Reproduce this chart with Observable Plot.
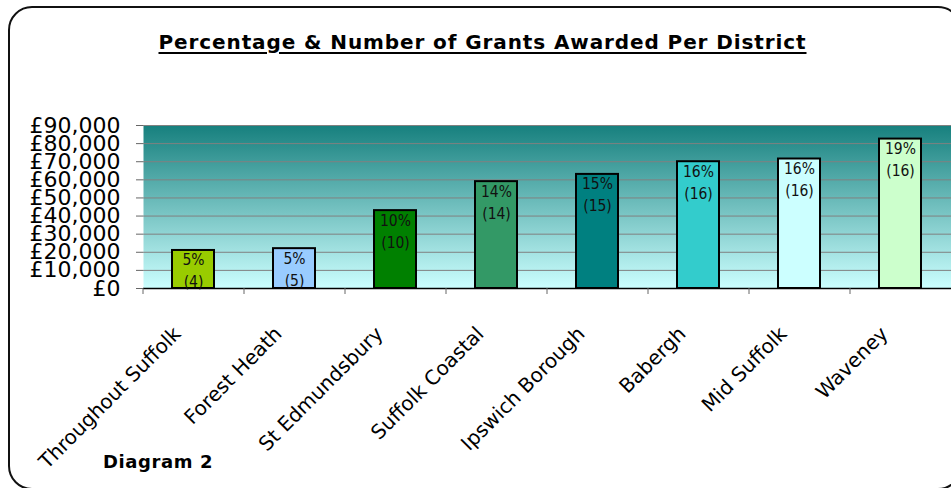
<!DOCTYPE html>
<html>
<head>
<meta charset="utf-8">
<script src="https://cdn.jsdelivr.net/npm/d3@7"></script>
<script src="https://cdn.jsdelivr.net/npm/@observablehq/plot@0.6"></script>
<style>
  html, body { margin: 0; padding: 0; background: #fff; overflow: hidden; }
  #wrap { position: relative; width: 951px; height: 488px; overflow: hidden; background: #fff; }
  #border { position: absolute; left: 8px; top: 6px; width: 954px; height: 484px; border: 2px solid #111; border-radius: 24px; box-sizing: border-box; pointer-events: none; }
  #title { position: absolute; left: 0; width: 965px; top: 30px; text-align: center; font-family: "DejaVu Sans", sans-serif; font-weight: bold; font-size: 20px; letter-spacing: 0.9px; text-decoration: underline; text-decoration-thickness: 2px; text-underline-offset: 3px; color: #000; white-space: nowrap; }
  #caption { position: absolute; left: 103px; top: 451px; font-family: "DejaVu Sans", sans-serif; font-weight: bold; font-size: 18px; letter-spacing: 0.6px; color: #000; }
  #chart { position: absolute; left: 0; top: 0; }
</style>
</head>
<body>
<div id="wrap">
  <div id="chart"></div>
  <div id="title">Percentage &amp; Number of Grants Awarded Per District</div>
  <div id="caption">Diagram 2</div>
  <div id="border"></div>
</div>
<script>
const districts = ["Throughout Suffolk", "Forest Heath", "St Edmundsbury", "Suffolk Coastal", "Ipswich Borough", "Babergh", "Mid Suffolk", "Waveney"];
const amounts = [21000, 22000, 43000, 59000, 63000, 70000, 71500, 82500];
const percents = [5, 5, 10, 14, 15, 16, 16, 19];
const counts = [4, 5, 10, 14, 15, 16, 16, 16];
const barColors = ["#99cc00", "#99ccff", "#008000", "#339966", "#008080", "#33cccc", "#ccffff", "#ccffcc"];
const yTicks = [0, 10000, 20000, 30000, 40000, 50000, 60000, 70000, 80000, 90000];

const data = districts.map((d, i) => ({district: d, amount: amounts[i], pct: percents[i] + "%", count: "(" + counts[i] + ")", color: barColors[i]}));

const W = 951, H = 488, mL = 143, mR = 0, mT = 125, mB = 200;
const step = (W - mL - mR) / districts.length;

const chart = Plot.plot({
  width: W,
  height: H,
  marginLeft: mL,
  marginRight: mR,
  marginTop: mT,
  marginBottom: mB,
  style: {background: "transparent", overflow: "visible"},
  x: {type: "band", domain: districts, paddingInner: 0.584, paddingOuter: 0.292, label: null},
  y: {domain: [0, 90000], label: null},
  color: {type: "identity"},
  marks: [
    Plot.frame({fill: "#ccffff", stroke: "none", ariaLabel: "bg"}),
    Plot.gridY(yTicks, {stroke: "#808080", strokeOpacity: 1, strokeWidth: 1}),
    Plot.barY(data, {x: "district", y: "amount", fill: "color", stroke: "#000", strokeWidth: 2}),
    Plot.ruleY([0], {stroke: "#000", strokeWidth: 1.5}),
    Plot.text(data, {x: "district", y: "amount", text: "pct", dy: 10, fontSize: 15.5, fontFamily: "DejaVu Sans Condensed, DejaVu Sans", fill: "#111"}),
    Plot.text(data, {x: "district", y: "amount", text: "count", dy: 32, fontSize: 15.5, fontFamily: "DejaVu Sans Condensed, DejaVu Sans", fill: "#111"}),
    Plot.axisY({ticks: yTicks, tickSize: 7, tickPadding: 16, tickFormat: d => "£" + d3.format(",")(d), fontSize: 22, fontFamily: "DejaVu Sans", stroke: "#666", fill: "#000", label: null}),
    Plot.axisX({tickSize: 6, dx: -step / 2, tickFormat: () => "", stroke: "#666", label: null}),
    Plot.axisX({tickSize: 0, tickPadding: 42, dx: -16, tickRotate: -45, textAnchor: "end", fontSize: 20, fontFamily: "DejaVu Sans", fill: "#000", label: null})
  ]
});

const svg = d3.select(chart);
const grad = svg.insert("defs", ":first-child").append("linearGradient")
  .attr("id", "bggrad").attr("x1", 0).attr("y1", 0).attr("x2", 0).attr("y2", 1);
grad.append("stop").attr("offset", "0%").attr("stop-color", "#17807e");
grad.append("stop").attr("offset", "100%").attr("stop-color", "#ccffff");
svg.selectAll("rect[aria-label='bg']").attr("fill", "url(#bggrad)");
svg.select("g[aria-label='bg']").selectAll("rect").attr("fill", "url(#bggrad)");

document.getElementById("chart").appendChild(chart);
</script>
</body>
</html>
